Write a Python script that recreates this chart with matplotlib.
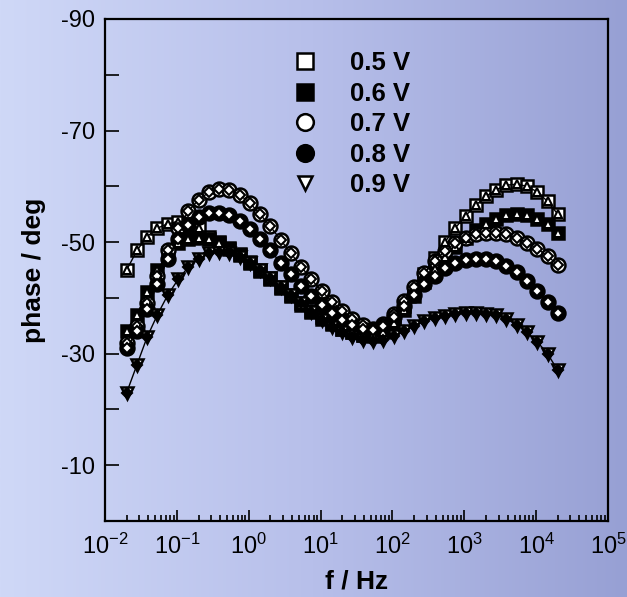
"""Bode phase plot: phase vs. frequency at five potentials."""

import matplotlib.pyplot as plt
import matplotlib.ticker as mticker
import numpy as np
from matplotlib.colors import LinearSegmentedColormap

plt.rcParams["font.family"] = ["Liberation Sans", "DejaVu Sans"]
plt.rcParams["mathtext.fontset"] = "custom"
plt.rcParams["mathtext.rm"] = "Liberation Sans"
plt.rcParams["mathtext.default"] = "regular"
plt.rcParams["axes.unicode_minus"] = False

FREQ = [0.02, 0.0278, 0.0386, 0.0537, 0.0746, 0.104, 0.144, 0.2, 0.278, 0.386,
        0.537, 0.746, 1.04, 1.44, 2.0, 2.78, 3.86, 5.37, 7.46, 10.4,
        14.4, 20.0, 27.8, 38.6, 53.7, 74.6, 104, 144, 200, 278,
        386, 537, 746, 1040, 1440, 2000, 2780, 3860, 5370, 7460,
        10400, 14400, 20000]

PH_05 = [-45, -48.5, -51, -52.5, -53.3, -53.6, -53.5, -52.5, -51, -50,
         -49, -47.8, -46.5, -45, -43.5, -42, -40.5, -39, -37.7, -36.5,
         -35.5, -34.5, -33.8, -33.3, -33.2, -34, -36, -38.5, -41.3, -44.3,
         -47.2, -50, -52.5, -54.7, -56.6, -58.2, -59.4, -60.2, -60.4, -60,
         -59, -57.3, -55]
PH_06 = [-34, -37, -41, -45, -48, -49.8, -50.6, -50.8, -50.5, -49.8,
         -48.8, -47.6, -46.2, -44.8, -43.3, -41.8, -40.3, -38.8, -37.5, -36.3,
         -35.3, -34.4, -33.8, -33.4, -33.3, -33.8, -35.5, -37.8, -40.3, -42.8,
         -45.2, -47.3, -49.2, -50.8, -52.2, -53.3, -54.2, -54.8, -55, -54.8,
         -54.2, -53.2, -51.6]
PH_07 = [-32, -35, -39, -44, -48.5, -52.5, -55.5, -57.6, -58.9, -59.5,
         -59.4, -58.5, -57, -55, -52.8, -50.4, -48, -45.6, -43.3, -41.2,
         -39.3, -37.7, -36.3, -35.2, -34.5, -35.3, -37.2, -39.5, -42, -44.4,
         -46.6, -48.4, -49.8, -50.8, -51.4, -51.7, -51.7, -51.4, -50.8, -49.9,
         -48.8, -47.5, -45.9]
PH_08 = [-31, -34, -38, -42.5, -47, -50.5, -53, -54.5, -55.2, -55.3,
         -54.8, -53.8, -52.3, -50.5, -48.5, -46.3, -44.2, -42.2, -40.3, -38.7,
         -37.3, -36.1, -35.2, -34.5, -34.2, -35, -36.5, -38.5, -40.6, -42.5,
         -44, -45.3, -46.2, -46.8, -47, -47, -46.6, -45.8, -44.6, -43,
         -41.2, -39.3, -37.3]
PH_09 = [-23, -28, -33, -37, -40.5, -43.3, -45.5, -47, -48, -48.3,
         -48, -47.3, -46.3, -45, -43.5, -42, -40.5, -39, -37.5, -36,
         -34.8, -33.8, -33, -32.5, -32.3, -32.5, -33.1, -34, -35, -35.8,
         -36.4, -36.8, -37.1, -37.3, -37.3, -37.2, -36.9, -36.2, -35.2, -33.8,
         -32.1, -30, -27]

LABELS = ["0.5 V", "0.6 V", "0.7 V", "0.8 V", "0.9 V"]
SERIES = [PH_05, PH_06, PH_07, PH_08, PH_09]

DATA_STYLE = [
    dict(marker="s", mfc="white", ms=9),
    dict(marker="s", mfc="black", ms=9),
    dict(marker="o", mfc="white", ms=10),
    dict(marker="o", mfc="black", ms=10),
    dict(marker="v", mfc="white", ms=9),
]
FIT_STYLE = [
    dict(marker="^", mfc="white", ms=6),
    dict(marker="^", mfc="white", ms=6),
    dict(marker="D", mfc="white", ms=5),
    dict(marker="D", mfc="white", ms=5),
    dict(marker="D", mfc="black", ms=5),
]
LEGEND_MS = [11.5, 11.5, 12, 12, 9.5]

fig = plt.figure(figsize=(6.27, 5.97), dpi=100)

# background gradient
bg = fig.add_axes([0, 0, 1, 1], zorder=-1)
cmap = LinearSegmentedColormap.from_list("bg", ["#cfd8f7", "#b7bfea", "#97a0d4"])
bg.imshow(np.linspace(0, 1, 256)[None, :], aspect="auto", cmap=cmap,
          extent=[0, 1, 0, 1])
bg.axis("off")

ax = fig.add_axes([0.1675, 0.1273, 0.8022, 0.8409])
ax.set_facecolor("none")

for ph, st in zip(SERIES, DATA_STYLE):
    ax.plot(FREQ, ph, linestyle="none", mec="black", mew=1.8, **st)
for ph, st in zip(SERIES, FIT_STYLE):
    ax.plot(FREQ, ph, color="black", lw=1.0, mec="black", mew=1.5, **st)

ax.set_xscale("log")
ax.set_xlim(1e-2, 1e5)
ax.set_ylim(0, -90)

ax.xaxis.set_major_locator(mticker.LogLocator(base=10, numticks=10))
ax.xaxis.set_minor_locator(mticker.LogLocator(base=10, subs=np.arange(2, 10), numticks=100))
ax.xaxis.set_major_formatter(mticker.FuncFormatter(
    lambda v, p: r"$10^{%d}$" % round(np.log10(v))))
ax.xaxis.set_minor_formatter(mticker.NullFormatter())

ax.yaxis.set_major_locator(mticker.FixedLocator([-90, -70, -50, -30, -10]))
ax.yaxis.set_minor_locator(mticker.FixedLocator([-80, -60, -40, -20]))

ax.tick_params(axis="both", which="both", direction="in", top=False, right=False,
               width=1.2, labelsize=17)
ax.tick_params(axis="x", which="major", length=8, pad=9)
ax.tick_params(axis="x", which="minor", length=4)
ax.tick_params(axis="y", which="both", length=10, pad=7)

for sp in ax.spines.values():
    sp.set_linewidth(1.6)

ax.set_xlabel("f / Hz", fontsize=19, fontweight="bold", labelpad=8)
ax.set_ylabel("phase / deg", fontsize=19, fontweight="bold", labelpad=11)

handles = [plt.Line2D([], [], linestyle="none", mec="black", mew=1.8,
                      **dict(st, ms=ms))
           for st, ms in zip(DATA_STYLE, LEGEND_MS)]
ax.legend(handles, LABELS, loc="upper left", bbox_to_anchor=(0.352, 0.956),
          borderaxespad=0, frameon=False, handlelength=1.0, handletextpad=1.25,
          labelspacing=0.25, prop=dict(size=18.5, weight="bold"))

fig.savefig("out.png", dpi=100)
